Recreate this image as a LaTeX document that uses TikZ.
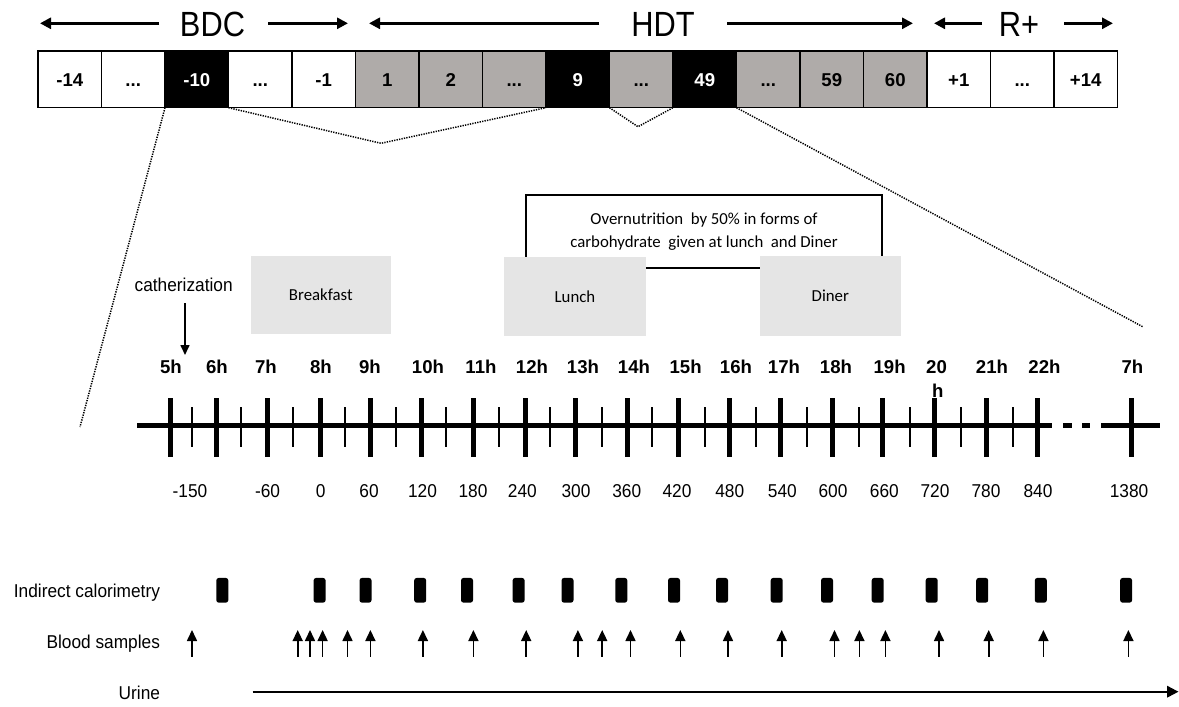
\documentclass[tikz,border=0pt]{standalone}
\usepackage{fontspec}
\setmainfont{Liberation Sans}
\newfontfamily\labfont[FakeStretch=0.93]{Liberation Sans}
\newfontfamily\topfont[FakeStretch=0.88]{Liberation Sans}
\newfontfamily\calfont{Carlito}
\usetikzlibrary{arrows.meta,calc}
\definecolor{cellgray}{RGB}{175,171,169}
\definecolor{mealgray}{RGB}{229,229,229}
\newcommand\dotsx{...}
\tikzset{
  every node/.style={inner sep=0pt, outer sep=0pt},
  toplbl/.style={font=\topfont\fontsize{35}{40}\selectfont},
  toparrow/.style={line width=3, -{Triangle[length=11pt,width=11pt]}},
  cell/.style={draw, line width=1.3, minimum width=63.5, minimum height=56.7, text height=13.3, text depth=0pt, font=\bfseries\fontsize{18.6}{20}\selectfont},
  wc/.style={cell, fill=white},
  bc/.style={cell, fill=black, text=white},
  gc/.style={cell, fill=cellgray},
  dotline/.style={line width=1.5, dash pattern=on 1.3pt off 1.2pt},
  meal/.style={fill=mealgray, font=\calfont\fontsize{16.8}{20}\selectfont},
  lbl/.style={font=\labfont\fontsize{18.6}{20}\selectfont},
  hour/.style={font=\bfseries\fontsize{18.6}{20}\selectfont},
  major/.style={line width=5},
  minor/.style={line width=1.8},
  axis/.style={line width=5.5},
  thinarrow/.style={line width=1.6, -{Triangle[length=10pt,width=9pt]}},
  bloodarrow/.style={line width=1.6, -{Triangle[length=11pt,width=10pt]}},
  calblk/.style={fill=black, rounded corners=2.5, minimum width=12, minimum height=24.7},
}
\begin{document}
\begin{tikzpicture}[x=1pt,y=-1pt]
\useasboundingbox (0,0) rectangle (1179,707);

% ---- top labels and arrows
\node[toplbl] (bdc) at (212.5,24) {BDC};
\node[toplbl] (hdt) at (663,24) {HDT};
\node[toplbl] (rplus) at (1019,24) {R+};
\coordinate (bdcLa) at (159,23.3); \coordinate (bdcLb) at (40,23.3);
\coordinate (bdcRa) at (268,23.3); \coordinate (bdcRb) at (348,23.3);
\coordinate (hdtLa) at (599,23.3); \coordinate (hdtLb) at (369,23.3);
\coordinate (hdtRa) at (727,23.3); \coordinate (hdtRb) at (913,23.3);
\coordinate (rpLa) at (982,23.3); \coordinate (rpLb) at (934,23.3);
\coordinate (rpRa) at (1064,23.3); \coordinate (rpRb) at (1113,23.3);
\draw[toparrow] (bdcLa) -- (bdcLb);
\draw[toparrow] (bdcRa) -- (bdcRb);
\draw[toparrow] (hdtLa) -- (hdtLb);
\draw[toparrow] (hdtRa) -- (hdtRb);
\draw[toparrow] (rpLa) -- (rpLb);
\draw[toparrow] (rpRa) -- (rpRb);

% ---- day cells
\foreach \k/\t/\st in {0/-14/wc,1/\dotsx/wc,2/-10/bc,3/\dotsx/wc,4/-1/wc,5/1/gc,6/2/gc,7/\dotsx/gc,8/9/bc,9/\dotsx/gc,10/49/bc,11/\dotsx/gc,12/59/gc,13/60/gc,14/+1/wc,15/\dotsx/wc,16/+14/wc}
  \node[\st] (c\k) at ({69.75+63.5*\k},79.35) {\t};

% ---- dotted zoom lines
\coordinate (z1) at (80,427);
\coordinate (z2) at (381,143.3);
\coordinate (z3) at (638,126.7);
\coordinate (z4) at (1142.6,326.7);
\draw[dotline] (c2.south west) -- (z1);
\draw[dotline] (c3.south west) -- (z2) -- (c8.south west);
\draw[dotline] (c9.south west) -- (z3) -- (c10.south west);
\draw[dotline] (c11.south west) -- (z4);

% ---- overnutrition box and meals
\node[draw, line width=1.5, minimum width=356, minimum height=73, align=center,
      font=\calfont\fontsize{16.8}{23}\selectfont] (over) at (704,231.5)
      {Overnutrition~ by 50\% in forms of\\carbohydrate~ given at lunch~ and Diner};
\node[meal, minimum width=140.3, minimum height=78] (breakfast) at (320.8,295) {Breakfast};
\node[meal, minimum width=142, minimum height=78.7] (lunch) at (575,296.35) {Lunch};
\node[meal, minimum width=140.7, minimum height=79.7] (diner) at (830.35,295.85) {Diner};

% ---- catheterization
\node[lbl] (cath) at (183.7,285) {catherization};
\coordinate (cathA) at (185,303);
\coordinate (cathB) at (185,355);
\draw[thinarrow] (cathA) -- (cathB);

% ---- hour labels
\foreach \x/\t [count=\i] in {171/5h,217/6h,266/7h,321/8h,370/9h,428/10h,481/11h,532/12h,583/13h,634/14h,685.6/15h,736/16h,784/17h,836/18h,889.6/19h,936.5/20,992/21h,1044.5/22h,1132.5/7h}
  \node[hour] (hr\i) at (\x,367) {\t};
\node[hour] (hr20h) at (937.8,391) {h};

% ---- time axis
\coordinate (tlA) at (137,425.7); \coordinate (tlB) at (1052,425.7);
\coordinate (tlC) at (1101,425.7); \coordinate (tlD) at (1160,425.7);
\draw[axis] (tlA) -- (tlB);
\draw[axis] (tlC) -- (tlD);
\fill (1063,422.95) rectangle (1072,428.45);
\fill (1082,422.95) rectangle (1090,428.45);
\foreach \x [count=\i] in {170.7,216.7,267.7,320,370,421.5,473,525,575,627,678,729,780,832,882,934.6,986,1037,1131}{
  \coordinate (mt\i) at (\x,398); \coordinate (mb\i) at (\x,457);
  \draw[major] (mt\i) -- (mb\i);
}
\foreach \x [count=\i] in {191.7,241,292.7,345,396,446,499,550,602,652,705,756,807,859,910,961,1013}{
  \coordinate (nt\i) at (\x,407); \coordinate (nb\i) at (\x,447);
  \draw[minor] (nt\i) -- (nb\i);
}

% ---- minute labels
\foreach \x/\t [count=\i] in {190/-150,267.5/-60,320.7/0,369/60,422.5/120,473/180,522.4/240,576/300,626.7/360,677/420,729.8/480,782.4/540,833/600,884.4/660,935/720,986/780,1038/840,1129/1380}
  \node[lbl] (mn\i) at (\x,491) {\t};

% ---- row labels
\node[lbl, anchor=base east] (lic) at (160,597) {Indirect calorimetry};
\node[lbl, anchor=base east] (lbs) at (160,648) {Blood samples};
\node[lbl, anchor=base east] (lur) at (160,699) {Urine};

% ---- calorimetry blocks
\foreach \x [count=\i] in {222.3,319.6,365.5,420.2,467,518.6,567.5,621.3,674,722,776.7,827,877.7,931.7,982.2,1040.8,1126.1}
  \node[calblk] (cal\i) at (\x,590.3) {};

% ---- blood sample arrows
\foreach \x [count=\i] in {192,297.7,310,322.6,347.5,370.4,422.9,473.4,526.2,577.9,602.2,630.5,680.3,728,781.7,834.5,859.4,885.4,939,988.7,1043.4,1128.4}{
  \coordinate (bsA\i) at (\x,656.7); \coordinate (bsB\i) at (\x,630);
  \draw[bloodarrow] (bsA\i) -- (bsB\i);
}

% ---- urine arrow
\coordinate (urA) at (252.6,691.7);
\coordinate (urB) at (1178.5,691.7);
\draw[line width=2, -{Triangle[length=11.5pt,width=11.5pt]}] (urA) -- (urB);
\end{tikzpicture}
\end{document}
